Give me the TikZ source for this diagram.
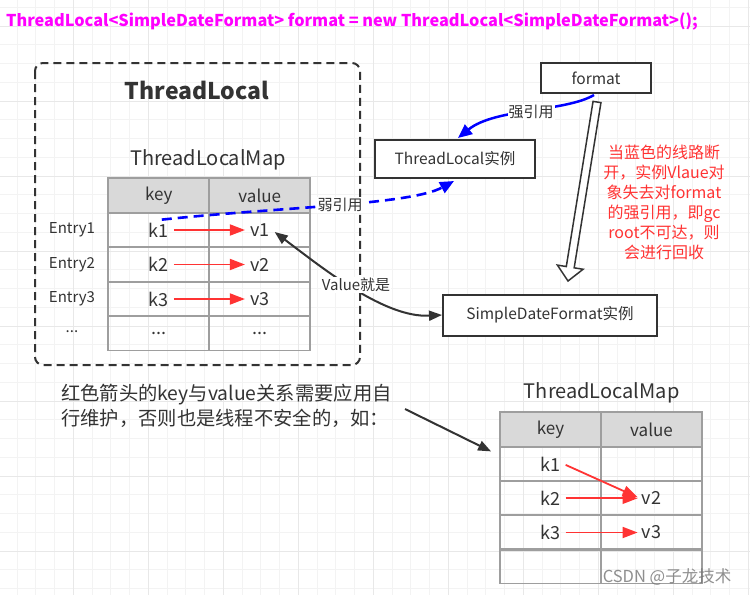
\documentclass[tikz,border=0pt]{standalone}
\usepackage{fontspec}
\setmainfont{Noto Sans CJK SC}
\usetikzlibrary{arrows.meta,calc}
\definecolor{tx}{HTML}{333333}
\definecolor{gridmin}{HTML}{F3F3F3}
\definecolor{gridmaj}{HTML}{E8E8E8}
\definecolor{hdr}{HTML}{D9D9D9}
\definecolor{cellline}{HTML}{9E9E9E}
\definecolor{redarr}{HTML}{FF3333}
\definecolor{bluearr}{HTML}{0000FF}
\definecolor{mag}{HTML}{FF00FF}
\definecolor{redtxt}{HTML}{FF3333}
\tikzset{
  fs/.style={font=\fontsize{#1}{#1}\selectfont},
  fsb/.style={font=\fontsize{#1}{#1}\selectfont\bfseries},
  cell/.style={draw=cellline, line width=1.8pt, minimum width=101pt, minimum height=34.4pt, inner sep=0pt},
  hcell/.style={cell, fill=hdr},
  celltext/.style={text=tx, fs=18, inner sep=1pt},
  hdrtext/.style={text=tx, fs=17, inner sep=1pt},
  entrytext/.style={text=tx, fs=15},
  redarrow/.style={draw=redarr, line width=1.8pt, -{Triangle[length=15pt,width=11pt]}},
  boxnode/.style={draw=tx, line width=2pt, fill=white, text=tx, fs=15.5, inner sep=0pt},
  lbl/.style={fill=white, text=tx, fs=15, inner sep=1pt},
  grayarrow/.style={draw=tx, line width=2pt},
}
\begin{document}
\begin{tikzpicture}[x=1pt,y=-1pt]
\useasboundingbox (0,0) rectangle (750,595);
\fill[white] (0,0) rectangle (750,595);
% grid
\foreach \i in {0,...,40} {
  \draw[gridmin, line width=0.8pt] ({-1.7+18.75*\i},0) -- ({-1.7+18.75*\i},595);
  \draw[gridmin, line width=0.8pt] (0,{26+18.75*(\i-2)}) -- (750,{26+18.75*(\i-2)});
}
\foreach \i in {0,...,10} {
  \draw[gridmaj, line width=0.9pt] ({-1.7+75*\i},0) -- ({-1.7+75*\i},595);
  \draw[gridmaj, line width=0.9pt] (0,{26+75*\i}) -- (750,{26+75*\i});
}
% title
\node[anchor=west, text=mag, fsb=16.3, inner sep=0pt] (title) at (6,21)
  {ThreadLocal<SimpleDateFormat> format = new ThreadLocal<SimpleDateFormat>();};
% outer dashed box
\draw[tx, line width=2pt, dash pattern=on 8pt off 5pt, rounded corners=8pt] (35,63) rectangle (360,365);
\node[text=tx, fsb=23] (tltitle) at (197,90) {ThreadLocal};
\node[text=tx, fs=20] (map1title) at (208,160) {ThreadLocalMap};
% table 1
\foreach \r/\y in {0/195.5,1/230,2/264.5,3/299,4/333.2} {
  \ifnum\r=0
    \node[hcell] (a\r k) at (158.8,\y) {};
    \node[hcell] (a\r v) at (259.8,\y) {};
  \else
    \node[cell] (a\r k) at (158.8,\y) {};
    \node[cell] (a\r v) at (259.8,\y) {};
  \fi
}
\node[hdrtext] (h1k) at (a0k) {key};
\node[hdrtext] (h1v) at (a0v) {value};
\node[celltext] (k1) at (a1k) {k1};
\node[celltext] (v1) at (a1v) {v1};
\node[celltext] (k2) at (a2k) {k2};
\node[celltext] (v2) at (a2v) {v2};
\node[celltext] (k3) at (a3k) {k3};
\node[celltext] (v3) at (a3v) {v3};
\node[celltext] (k4) at (a4k) {...};
\node[celltext] (v4) at (a4v) {...};
\node[entrytext] (e1) at (72,230) {Entry1};
\node[entrytext] (e2) at (72,264.5) {Entry2};
\node[entrytext] (e3) at (72,299) {Entry3};
\node[entrytext] (e4) at (72,332) {...};
\draw[redarrow] ($(k1.east)+(4,0)$) -- ($(v1.west)+(-4,0)$);
\draw[redarrow] ($(k2.east)+(4,0)$) -- ($(v2.west)+(-4,0)$);
\draw[redarrow] ($(k3.east)+(4,0)$) -- ($(v3.west)+(-4,0)$);
% boxes right
\node[boxnode, minimum width=110pt, minimum height=30pt] (fmt) at (596,78) {format};
\node[boxnode, minimum width=160pt, minimum height=38pt] (tl) at (455,159) {ThreadLocal实例};
\node[boxnode, minimum width=214pt, minimum height=41pt] (sdf) at (550,315) {SimpleDateFormat实例};
% strong reference
\draw[bluearr, line width=2.5pt, -{Triangle[length=14pt,width=12pt]}]
  ($(fmt.south)+(-2,1)$) .. controls (565,112) and (495,108) .. ($(tl.north)+(3,-1)$);
\node[lbl] (strong) at (531,112) {强引用};
% weak reference
\draw[bluearr, line width=2.6pt, dash pattern=on 10pt off 6pt, -{Triangle[length=14pt,width=12pt]}]
  ($(k1.north)+(3,-2)$) .. controls (280,207) and (410,205) .. ($(tl.south)+(-1,2)$);
\node[lbl] (weak) at (340,205) {弱引用};
% hollow arrow
\coordinate (hs) at (597,102);
\coordinate (he) at (568,281);
\coordinate (hb) at ($(he)!14pt!(hs)$);
\filldraw[draw=tx, fill=white, line width=1.5pt]
  ($(hs)!4pt!90:(he)$) -- ($(hb)!4pt!-90:(hs)$) -- ($(hb)!13pt!-90:(hs)$) -- (he)
  -- ($(hb)!13pt!90:(hs)$) -- ($(hb)!4pt!90:(hs)$) -- ($(hs)!4pt!-90:(he)$) -- cycle;
% red note
\node[text=redtxt, align=center, inner sep=0pt, font=\fontsize{16}{20}\selectfont] (note) at (664,202)
  {当蓝色的线路断\\开，实例Vlaue对\\象失去对format\\的强引用，即gc\\root不可达，则\\会进行回收};
% value arrow
\draw[grayarrow, {Triangle[length=13pt,width=10pt]}-{Triangle[length=13pt,width=10pt]}]
  ($(v1.east)+(4,2)$) .. controls (325,270) and (385,318) .. (sdf.west);
\node[lbl] (valis) at (356,285) {Value就是};
% bottom-left text
\node[anchor=north west, text=tx, align=left, inner sep=0pt, font=\fontsize{19.3}{25}\selectfont] (desc) at (61,384)
  {红色箭头的key与value关系需要应用自\\行维护，否则也是线程不安全的，如：};
\coordinate (bs) at (405,409);
% table 2
\node[text=tx, fs=20] (map2title) at (601.7,393) {ThreadLocalMap};
\foreach \r/\y in {0/429.5,1/463.9,2/498.3,3/532.5,4/566.2} {
  \ifnum\r=0
    \node[hcell] (b\r k) at (550.5,\y) {};
    \node[hcell] (b\r v) at (651.5,\y) {};
  \else
    \node[cell] (b\r k) at (550.5,\y) {};
    \node[cell] (b\r v) at (651.5,\y) {};
  \fi
}
\node[hdrtext] (h2k) at (b0k) {key};
\node[hdrtext] (h2v) at (b0v) {value};
\node[celltext] (m1) at (b1k) {k1};
\node[celltext] (m2) at (b2k) {k2};
\node[celltext] (w2) at (b2v) {v2};
\node[celltext] (m3) at (b3k) {k3};
\node[celltext] (w3) at (b3v) {v3};
\draw[grayarrow, -{Triangle[length=13pt,width=10pt]}] (bs) -- ($(b0k.north west)+(-8,40)$);
\draw[redarrow] ($(m1.east)+(4,1)$) -- ($(w2.west)+(-3,-1)$);
\draw[redarrow] ($(m2.east)+(4,0)$) -- ($(w2.west)+(-3,0)$);
\draw[redarrow] ($(m3.east)+(4,0)$) -- ($(w3.west)+(-3,0)$);
% watermark
\node[text=black!55, opacity=0.8, fs=16.5, inner sep=0pt] (wm) at (667,577) {CSDN @子龙技术};
\end{tikzpicture}
\end{document}
